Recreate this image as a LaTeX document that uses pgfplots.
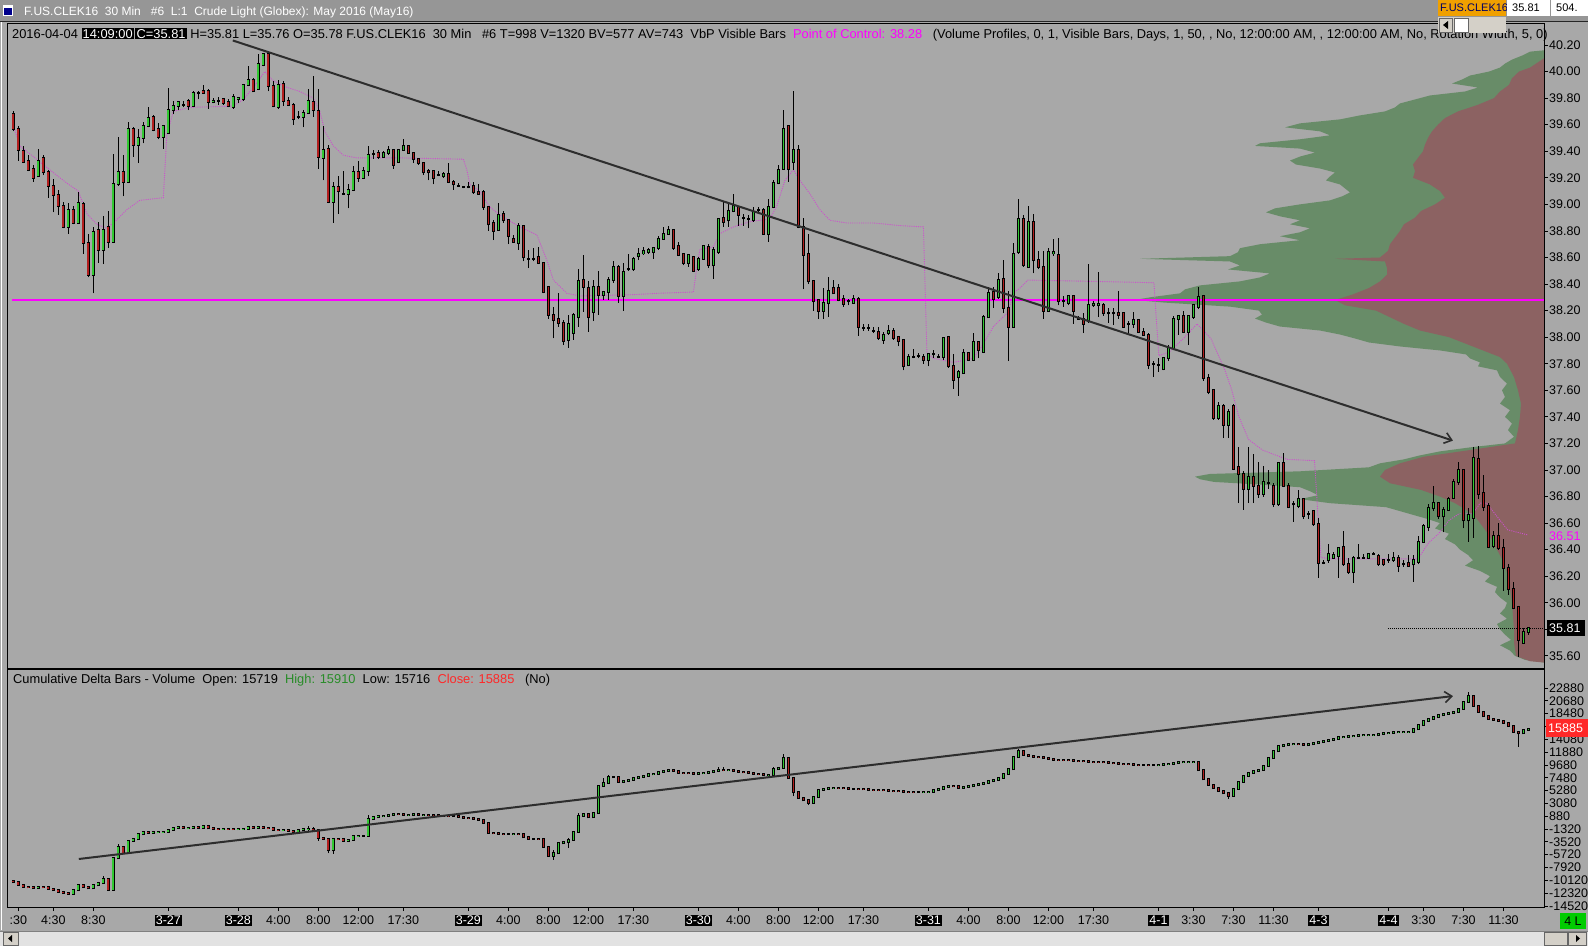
\documentclass[border=0pt]{standalone}
\usepackage{pgfplots}
\pgfplotsset{compat=1.18}
\usepackage{pgfplotstable}
\usetikzlibrary{arrows.meta}
\usepackage{fontspec}
\setmainfont{Liberation Sans}
\definecolor{bg}{RGB}{168,168,168}
\definecolor{titlebg}{RGB}{150,150,150}
\definecolor{cgreen}{RGB}{50,200,50}
\definecolor{cred}{RGB}{178,30,30}
\definecolor{pgreen}{RGB}{104,140,104}
\definecolor{pred}{RGB}{140,98,98}
\definecolor{poc}{RGB}{255,0,255}
\definecolor{dpoc}{RGB}{205,80,205}
\definecolor{trend}{RGB}{45,45,45}
\definecolor{hgreen}{RGB}{40,140,40}
\definecolor{tred}{RGB}{255,40,40}
\definecolor{orangebox}{RGB}{240,160,0}
\definecolor{scroll}{RGB}{226,226,226}
\definecolor{btn}{RGB}{212,208,200}
\newcommand{\lbl}{\fontsize{12.5}{14}\selectfont}
\newcommand{\infofont}{\fontsize{12.85}{14}\selectfont}
\setlength{\fboxsep}{1.2pt}
\newcommand{\dt}[1]{\colorbox{black}{\textcolor{white}{#1}}}

\pgfplotstableread{
i o h l c
0 39.68 39.70 39.55 39.57
1 39.57 39.59 39.33 39.41
2 39.40 39.44 39.31 39.32
3 39.33 39.37 39.25 39.26
4 39.27 39.30 39.17 39.20
5 39.21 39.42 39.21 39.33
6 39.35 39.37 39.22 39.24
7 39.24 39.26 39.05 39.14
8 39.14 39.19 38.94 39.07
9 39.07 39.11 38.92 38.99
10 38.99 39.02 38.82 38.83
11 38.83 39.01 38.78 38.96
12 38.96 38.99 38.85 38.86
13 38.86 39.09 38.86 39.01
14 39.00 39.02 38.63 38.71
15 38.71 38.78 38.45 38.47
16 38.47 38.83 38.33 38.79
17 38.81 38.87 38.56 38.66
18 38.66 38.91 38.55 38.81
19 38.83 38.95 38.67 38.72
20 38.72 39.38 38.71 39.15
21 39.15 39.51 39.14 39.24
22 39.24 39.37 39.06 39.17
23 39.17 39.62 39.16 39.57
24 39.57 39.58 39.36 39.45
25 39.45 39.57 39.31 39.50
26 39.50 39.62 39.46 39.59
27 39.59 39.73 39.58 39.65
28 39.66 39.67 39.55 39.56
29 39.57 39.61 39.49 39.51
30 39.51 39.60 39.42 39.59
31 39.54 39.88 39.54 39.71
32 39.71 39.78 39.68 39.74
33 39.74 39.78 39.71 39.77
34 39.75 39.78 39.73 39.75
35 39.78 39.79 39.71 39.74
36 39.74 39.85 39.74 39.84
37 39.84 39.85 39.79 39.84
38 39.85 39.90 39.83 39.84
39 39.85 39.87 39.72 39.77
40 39.77 39.80 39.76 39.78
41 39.78 39.81 39.75 39.78
42 39.79 39.80 39.75 39.76
43 39.77 39.79 39.73 39.74
44 39.73 39.83 39.72 39.81
45 39.79 39.81 39.76 39.80
46 39.79 39.91 39.78 39.90
47 39.90 40.04 39.89 39.94
48 39.94 39.95 39.85 39.85
49 39.87 40.13 39.86 40.06
50 40.05 40.14 40.04 40.13
51 40.13 40.14 39.85 39.89
52 39.89 39.93 39.73 39.74
53 39.73 39.94 39.72 39.90
54 39.91 39.93 39.74 39.78
55 39.78 39.81 39.74 39.75
56 39.75 39.76 39.60 39.64
57 39.66 39.70 39.64 39.66
58 39.66 39.71 39.58 39.69
59 39.69 39.87 39.69 39.78
60 39.77 39.97 39.66 39.71
61 39.70 39.87 39.27 39.36
62 39.35 39.59 39.18 39.41
63 39.42 39.45 39.01 39.02
64 39.02 39.17 38.86 39.13
65 39.13 39.21 38.93 39.10
66 39.08 39.25 39.07 39.08
67 39.08 39.15 38.97 39.11
68 39.11 39.29 39.10 39.24
69 39.24 39.33 39.17 39.20
70 39.20 39.28 39.19 39.25
71 39.25 39.44 39.21 39.37
72 39.38 39.41 39.34 39.38
73 39.39 39.41 39.34 39.36
74 39.36 39.40 39.35 39.39
75 39.39 39.44 39.37 39.41
76 39.41 39.42 39.27 39.30
77 39.32 39.42 39.31 39.41
78 39.41 39.49 39.40 39.44
79 39.44 39.45 39.38 39.39
80 39.39 39.39 39.31 39.34
81 39.34 39.35 39.30 39.31
82 39.31 39.31 39.22 39.24
83 39.25 39.27 39.18 39.24
84 39.25 39.26 39.15 39.20
85 39.22 39.25 39.21 39.22
86 39.21 39.24 39.20 39.23
87 39.23 39.31 39.16 39.17
88 39.17 39.18 39.11 39.15
89 39.14 39.16 39.13 39.14
90 39.13 39.14 39.12 39.13
91 39.13 39.17 39.12 39.13
92 39.14 39.17 39.08 39.09
93 39.09 39.15 39.08 39.08
94 39.09 39.11 38.96 38.98
95 38.98 38.99 38.80 38.85
96 38.86 38.88 38.73 38.80
97 38.81 39.01 38.80 38.92
98 38.93 38.95 38.86 38.88
99 38.88 38.89 38.70 38.76
100 38.74 38.77 38.71 38.72
101 38.71 38.86 38.66 38.84
102 38.84 38.84 38.57 38.60
103 38.59 38.66 38.52 38.59
104 38.59 38.67 38.57 38.59
105 38.60 38.68 38.55 38.56
106 38.56 38.56 38.33 38.34
107 38.38 38.38 38.14 38.17
108 38.17 38.23 37.99 38.13
109 38.14 38.33 38.08 38.11
110 38.11 38.13 37.94 37.97
111 37.98 38.17 37.92 38.10
112 38.03 38.18 37.98 38.17
113 38.15 38.51 38.08 38.42
114 38.43 38.62 38.19 38.38
115 38.37 38.42 38.04 38.15
116 38.19 38.43 38.12 38.38
117 38.38 38.50 38.17 38.32
118 38.32 38.34 38.28 38.34
119 38.34 38.45 38.28 38.43
120 38.43 38.57 38.41 38.53
121 38.53 38.54 38.26 38.31
122 38.31 38.56 38.20 38.49
123 38.51 38.63 38.50 38.51
124 38.51 38.60 38.50 38.59
125 38.61 38.67 38.58 38.63
126 38.63 38.68 38.62 38.65
127 38.64 38.67 38.63 38.66
128 38.64 38.68 38.59 38.67
129 38.67 38.76 38.66 38.74
130 38.74 38.83 38.74 38.78
131 38.78 38.84 38.77 38.81
132 38.81 38.81 38.66 38.67
133 38.69 38.72 38.61 38.62
134 38.63 38.63 38.54 38.56
135 38.56 38.63 38.53 38.62
136 38.60 38.61 38.49 38.50
137 38.51 38.60 38.50 38.59
138 38.59 38.69 38.59 38.69
139 38.68 38.70 38.52 38.54
140 38.54 38.68 38.44 38.66
141 38.64 38.90 38.63 38.89
142 38.90 39.02 38.83 38.87
143 38.88 39.01 38.83 38.95
144 38.95 39.08 38.94 38.99
145 38.98 38.99 38.84 38.92
146 38.90 38.93 38.84 38.90
147 38.89 38.92 38.82 38.89
148 38.88 38.98 38.87 38.94
149 38.96 38.98 38.94 38.96
150 38.96 38.97 38.77 38.78
151 38.78 39.04 38.72 38.98
152 38.98 39.18 38.97 39.16
153 39.16 39.30 39.15 39.26
154 39.27 39.71 39.26 39.57
155 39.59 39.60 39.17 39.27
156 39.32 39.85 39.26 39.41
157 39.41 39.45 38.82 38.83
158 38.83 38.90 38.36 38.62
159 38.63 38.78 38.40 38.42
160 38.42 38.43 38.20 38.27
161 38.28 38.28 38.14 38.20
162 38.20 38.37 38.14 38.26
163 38.26 38.45 38.15 38.35
164 38.37 38.43 38.33 38.33
165 38.37 38.40 38.27 38.28
166 38.29 38.32 38.23 38.25
167 38.27 38.29 38.24 38.27
168 38.26 38.32 38.25 38.29
169 38.29 38.30 38.01 38.08
170 38.07 38.10 38.05 38.07
171 38.07 38.10 38.05 38.07
172 38.05 38.08 38.03 38.05
173 38.04 38.08 37.98 37.99
174 37.98 38.04 37.95 38.02
175 38.03 38.09 38.02 38.05
176 38.05 38.07 37.98 37.99
177 38.00 38.01 37.93 37.97
178 37.98 37.98 37.75 37.78
179 37.79 37.87 37.78 37.85
180 37.85 37.91 37.84 37.85
181 37.86 37.88 37.84 37.86
182 37.85 37.87 37.80 37.83
183 37.83 37.88 37.78 37.87
184 37.87 37.90 37.84 37.87
185 37.85 37.87 37.84 37.85
186 37.85 38.00 37.83 37.99
187 38.00 38.01 37.77 37.78
188 37.78 37.87 37.61 37.68
189 37.70 37.75 37.56 37.74
190 37.73 37.91 37.73 37.88
191 37.88 37.89 37.83 37.83
192 37.83 38.03 37.82 37.96
193 37.96 37.96 37.84 37.90
194 37.89 38.17 37.88 38.15
195 38.15 38.38 38.15 38.33
196 38.34 38.38 38.22 38.29
197 38.30 38.48 38.29 38.43
198 38.44 38.58 38.18 38.22
199 38.22 38.35 37.82 38.08
200 38.08 38.71 38.07 38.63
201 38.64 39.04 38.63 38.89
202 38.89 38.92 38.53 38.54
203 38.53 38.99 38.52 38.87
204 38.87 38.93 38.48 38.58
205 38.58 38.65 38.51 38.53
206 38.53 38.65 38.14 38.20
207 38.20 38.67 38.19 38.64
208 38.63 38.74 38.61 38.64
209 38.62 38.75 38.24 38.27
210 38.27 38.31 38.23 38.27
211 38.26 38.32 38.24 38.31
212 38.31 38.32 38.10 38.20
213 38.14 38.16 38.13 38.14
214 38.14 38.18 38.03 38.10
215 38.12 38.55 38.11 38.24
216 38.24 38.27 38.23 38.25
217 38.24 38.49 38.15 38.25
218 38.24 38.26 38.16 38.18
219 38.18 38.22 38.11 38.18
220 38.18 38.22 38.09 38.18
221 38.18 38.35 38.14 38.17
222 38.18 38.19 38.07 38.08
223 38.10 38.12 38.02 38.10
224 38.10 38.19 38.07 38.13
225 38.13 38.14 38.03 38.04
226 38.04 38.07 38.02 38.02
227 38.02 38.03 37.76 37.79
228 37.80 37.82 37.70 37.80
229 37.79 37.84 37.74 37.79
230 37.76 37.85 37.75 37.84
231 37.84 37.94 37.82 37.92
232 37.92 38.16 37.90 38.14
233 38.14 38.17 38.02 38.16
234 38.16 38.20 38.03 38.04
235 38.04 38.17 37.94 38.16
236 38.15 38.25 38.14 38.24
237 38.23 38.38 38.21 38.30
238 38.31 38.32 37.67 37.69
239 37.69 37.72 37.57 37.59
240 37.60 37.61 37.38 37.39
241 37.39 37.51 37.38 37.48
242 37.48 37.50 37.24 37.34
243 37.34 37.46 37.24 37.44
244 37.48 37.50 37.00 37.01
245 37.02 37.17 36.75 36.97
246 36.97 36.99 36.70 36.86
247 36.86 37.17 36.75 36.95
248 36.95 37.12 36.75 36.88
249 36.88 37.06 36.79 36.82
250 36.82 37.03 36.80 36.91
251 36.90 37.00 36.86 36.90
252 36.88 36.90 36.72 36.74
253 36.74 37.06 36.73 37.05
254 37.05 37.13 36.87 36.88
255 36.88 36.90 36.71 36.72
256 36.74 36.77 36.61 36.74
257 36.73 36.85 36.71 36.78
258 36.78 36.79 36.63 36.65
259 36.67 36.69 36.63 36.67
260 36.69 36.70 36.58 36.59
261 36.59 36.64 36.19 36.30
262 36.30 36.32 36.29 36.30
263 36.32 36.44 36.30 36.37
264 36.34 36.38 36.34 36.36
265 36.35 36.42 36.19 36.41
266 36.42 36.54 36.28 36.29
267 36.29 36.34 36.22 36.23
268 36.23 36.35 36.15 36.34
269 36.34 36.44 36.33 36.34
270 36.34 36.37 36.33 36.34
271 36.34 36.37 36.33 36.37
272 36.37 36.38 36.36 36.37
273 36.35 36.37 36.28 36.29
274 36.32 36.33 36.28 36.29
275 36.32 36.37 36.30 36.32
276 36.32 36.38 36.31 36.34
277 36.34 36.36 36.23 36.28
278 36.29 36.32 36.27 36.29
279 36.30 36.36 36.27 36.28
280 36.29 36.36 36.16 36.32
281 36.31 36.50 36.29 36.46
282 36.46 36.59 36.45 36.58
283 36.57 36.74 36.54 36.71
284 36.71 36.88 36.69 36.75
285 36.75 36.76 36.63 36.65
286 36.65 36.72 36.53 36.70
287 36.70 36.80 36.69 36.78
288 36.79 36.93 36.78 36.91
289 36.91 37.06 36.89 37.00
290 37.00 37.01 36.56 36.62
291 36.62 36.71 36.46 36.66
292 36.64 37.17 36.49 37.09
293 37.08 37.18 36.78 36.82
294 36.83 36.96 36.69 36.72
295 36.73 36.75 36.41 36.42
296 36.43 36.54 36.41 36.50
297 36.50 36.60 36.40 36.41
298 36.41 36.48 36.09 36.26
299 36.26 36.29 36.06 36.10
300 36.10 36.16 35.95 35.96
301 35.97 35.97 35.59 35.72
302 35.70 35.81 35.69 35.78
303 35.78 35.81 35.76 35.81
}\price

\pgfplotstableread{
i o h l c
0 -10250 -10250 -10450 -10450
1 -10450 -10450 -10900 -10900
2 -10900 -10900 -11200 -11200
3 -11200 -11200 -11350 -11350
4 -11350 -11350 -11450 -11450
5 -11450 -11200 -11450 -11200
6 -11200 -11200 -11350 -11350
7 -11350 -11350 -11550 -11550
8 -11550 -11550 -11800 -11800
9 -11800 -11800 -12050 -12050
10 -12050 -12050 -12300 -12300
11 -12300 -12300 -12450 -12450
12 -12450 -11700 -12450 -11700
13 -11700 -11000 -11700 -11000
14 -11000 -11000 -11300 -11300
15 -11300 -11300 -11500 -11500
16 -11500 -11000 -11500 -11000
17 -11000 -10600 -11000 -10600
18 -10600 -9400 -10600 -9900
19 -9900 -9900 -11700 -11700
20 -11700 -6350 -11700 -6350
21 -6350 -3900 -6350 -4400
22 -4400 -4400 -5500 -5500
23 -5500 -3300 -5500 -3300
24 -3300 -3100 -3300 -3100
25 -3100 -2200 -3100 -2200
26 -2200 -1800 -2200 -1800
27 -1800 -1800 -1950 -1950
28 -1950 -1900 -1950 -1900
29 -1900 -1850 -1900 -1850
30 -1850 -1800 -1850 -1800
31 -1800 -1400 -1800 -1400
32 -1400 -1100 -1400 -1100
33 -1100 -1050 -1100 -1050
34 -1050 -1050 -1150 -1150
35 -1150 -1100 -1150 -1100
36 -1100 -1000 -1100 -1000
37 -1000 -1000 -1100 -1100
38 -1100 -800 -1100 -800
39 -800 -800 -1200 -1200
40 -1200 -1200 -1250 -1250
41 -1250 -1250 -1300 -1300
42 -1300 -1250 -1300 -1250
43 -1250 -1250 -1300 -1300
44 -1300 -1300 -1350 -1350
45 -1350 -1300 -1350 -1300
46 -1300 -1250 -1300 -1250
47 -1250 -1050 -1250 -1050
48 -1050 -1050 -1100 -1100
49 -1100 -1000 -1100 -1000
50 -1000 -1000 -1100 -1100
51 -1100 -1100 -1200 -1200
52 -1200 -1200 -1400 -1400
53 -1400 -1400 -1500 -1500
54 -1500 -1450 -1500 -1450
55 -1450 -1450 -1600 -1600
56 -1600 -1600 -1900 -1900
57 -1900 -1500 -1900 -1500
58 -1500 -1300 -1500 -1300
59 -1300 -800 -1600 -1250
60 -1250 -1000 -1800 -1450
61 -1450 -1450 -3300 -2900
62 -2900 -2900 -3000 -3000
63 -3000 -3000 -5500 -5000
64 -5000 -3050 -5600 -3050
65 -3050 -3050 -3100 -3100
66 -3100 -3100 -3300 -3300
67 -3300 -3200 -3300 -3200
68 -3200 -2500 -3200 -2500
69 -2500 -2450 -2500 -2450
70 -2450 -2450 -2450 -2450
71 -2450 1100 -2450 400
72 400 700 400 700
73 700 900 700 900
74 900 1000 900 1000
75 1000 1100 1000 1100
76 1100 1250 1100 1250
77 1250 1250 1200 1200
78 1200 1200 1100 1100
79 1100 1150 1100 1150
80 1150 1200 1150 1200
81 1200 1200 1100 1100
82 1100 1150 1100 1150
83 1150 1150 1100 1100
84 1100 1100 1050 1050
85 1050 1050 1000 1000
86 1000 1000 950 950
87 950 950 900 900
88 900 900 900 900
89 900 900 750 750
90 750 750 650 650
91 650 650 550 550
92 550 550 450 450
93 450 450 300 300
94 300 300 -250 -250
95 -250 -250 -1950 -1950
96 -1950 -1950 -2050 -2050
97 -2050 -2050 -2100 -2100
98 -2100 -2100 -2150 -2150
99 -2150 -2150 -2150 -2150
100 -2150 -2100 -2150 -2100
101 -2100 -2100 -2150 -2150
102 -2150 -2150 -2750 -2750
103 -2750 -2750 -2950 -2950
104 -2950 -2950 -2950 -2950
105 -2950 -2950 -3000 -3000
106 -3000 -3000 -4350 -4350
107 -4350 -4350 -6100 -5900
108 -5900 -4900 -6600 -5500
109 -5500 -3800 -5500 -3800
110 -3800 -3500 -3800 -3500
111 -3500 -2900 -4600 -3200
112 -3200 -1750 -3200 -1750
113 -1750 1400 -1750 950
114 950 1250 950 1250
115 1250 1250 700 700
116 700 1400 700 1400
117 1400 6050 1400 6050
118 6050 7400 6050 6600
119 6600 7950 6600 7550
120 7550 7550 7550 7550
121 7550 7550 6800 6800
122 6800 6950 6800 6950
123 6950 7100 6950 7100
124 7100 7400 7100 7400
125 7400 7650 7400 7650
126 7650 7800 7650 7800
127 7800 8050 7800 8050
128 8050 8200 8050 8200
129 8200 8500 8200 8500
130 8500 8600 8500 8600
131 8600 8800 8600 8800
132 8800 8800 8650 8650
133 8650 8650 8350 8350
134 8350 8350 8300 8300
135 8300 8300 8250 8250
136 8250 8250 8150 8150
137 8150 8250 8150 8250
138 8250 8300 8250 8300
139 8300 8500 8300 8500
140 8500 8700 8500 8700
141 8700 9300 8700 8800
142 8800 9300 8750 8750
143 8750 8800 8750 8800
144 8800 8800 8700 8700
145 8700 8700 8500 8500
146 8500 8500 8400 8400
147 8400 8400 8300 8300
148 8300 8300 8200 8200
149 8200 8200 8150 8150
150 8150 8150 7950 7950
151 7950 8000 7950 8000
152 8000 9300 8000 8900
153 8900 9150 8900 9150
154 9150 11550 9150 10800
155 10800 10800 7400 7400
156 7400 7400 4300 5000
157 5000 5000 4000 4000
158 4000 4000 3600 3600
159 3600 3600 2800 3200
160 3200 4200 3200 4200
161 4200 5400 4200 5400
162 5400 5600 5400 5600
163 5600 5700 5600 5700
164 5700 5750 5700 5750
165 5750 5750 5700 5700
166 5700 5700 5650 5650
167 5650 5650 5600 5600
168 5600 5600 5600 5600
169 5600 5600 5550 5550
170 5550 5550 5500 5500
171 5500 5500 5450 5450
172 5450 5450 5400 5400
173 5400 5400 5350 5350
174 5350 5350 5300 5300
175 5300 5300 5250 5250
176 5250 5250 5200 5200
177 5200 5200 5150 5150
178 5150 5150 5100 5100
179 5100 5100 5050 5050
180 5050 5050 5000 5000
181 5000 5000 5000 5000
182 5000 5050 5000 5050
183 5050 5100 5050 5100
184 5100 5300 5100 5300
185 5300 5600 5300 5600
186 5600 5900 5600 5900
187 5900 6100 5900 6100
188 6100 6100 6000 6000
189 6000 6000 5800 5800
190 5800 5900 5800 5900
191 5900 6000 5900 6000
192 6000 6200 6000 6200
193 6200 6400 6200 6400
194 6400 6600 6400 6600
195 6600 6900 6600 6900
196 6900 7100 6900 7100
197 7100 7500 7100 7500
198 7500 8200 7500 8200
199 8200 8900 8200 8900
200 8900 11000 8900 11000
201 11000 12400 11000 12000
202 12000 12000 11400 11400
203 11400 11400 11200 11200
204 11200 11200 11100 11100
205 11100 11100 11000 11000
206 11000 11000 10800 10800
207 10800 10800 10700 10700
208 10700 10700 10600 10600
209 10600 10600 10550 10550
210 10550 10550 10500 10500
211 10500 10500 10450 10450
212 10450 10450 10400 10400
213 10400 10400 10350 10350
214 10350 10350 10300 10300
215 10300 10300 10250 10250
216 10250 10250 10200 10200
217 10200 10200 10150 10150
218 10150 10150 10100 10100
219 10100 10100 10050 10050
220 10050 10050 9950 9950
221 9950 9950 9900 9900
222 9900 9900 9850 9850
223 9850 9850 9800 9800
224 9800 9800 9750 9750
225 9750 9750 9700 9700
226 9700 9700 9700 9700
227 9700 9700 9650 9650
228 9650 9650 9650 9650
229 9650 9700 9650 9700
230 9700 9800 9700 9800
231 9800 9900 9800 9900
232 9900 10000 9900 10000
233 10000 10100 10000 10100
234 10100 10150 10100 10150
235 10150 10200 10150 10200
236 10200 10250 10200 10250
237 10250 10250 8800 8800
238 8800 8800 7200 7200
239 7200 7200 6300 6300
240 6300 6300 5700 5700
241 5700 5700 5200 5200
242 5200 5200 4800 4800
243 4800 4800 3900 4400
244 4400 5600 4400 5600
245 5600 6800 5600 6800
246 6800 7800 6800 7800
247 7800 8300 7800 8300
248 8300 8600 8300 8600
249 8600 8800 8600 8800
250 8800 9500 8800 9500
251 9500 10800 9500 10800
252 10800 12000 10800 12000
253 12000 12900 12000 12900
254 12900 13100 12900 13100
255 13100 13200 13100 13200
256 13200 13300 13200 13300
257 13300 13300 13200 13200
258 13200 13200 13100 13100
259 13100 13200 13100 13200
260 13200 13400 13200 13400
261 13400 13600 13400 13600
262 13600 13800 13600 13800
263 13800 14000 13800 14000
264 14000 14200 14000 14200
265 14200 14400 14200 14400
266 14400 14500 14400 14500
267 14500 14600 14500 14600
268 14600 14700 14600 14700
269 14700 14750 14700 14750
270 14750 14800 14750 14800
271 14800 14850 14800 14850
272 14850 14900 14850 14900
273 14900 15000 14900 15000
274 15000 15100 15000 15100
275 15100 15200 15100 15200
276 15200 15250 15200 15250
277 15250 15300 15250 15300
278 15300 15350 15300 15350
279 15350 15400 15350 15400
280 15400 15800 15400 15800
281 15800 16500 15800 16500
282 16500 17300 16500 17300
283 17300 17600 17300 17600
284 17600 17900 17600 17900
285 17900 18200 17900 18200
286 18200 18400 18200 18400
287 18400 18600 18400 18600
288 18600 18800 18600 18800
289 18800 19300 18800 19300
290 19300 20500 19300 20500
291 20500 22200 20500 21500
292 21500 21500 19800 19800
293 19800 19800 18800 18800
294 18800 18800 18000 18000
295 18000 18000 17600 17600
296 17600 17600 17400 17400
297 17400 17400 17300 17300
298 17300 17300 16900 16900
299 16900 16900 16400 16400
300 16400 16400 15400 15400
301 15400 15500 12800 15100
302 15100 15800 15000 15719
303 15719 15910 15716 15885
}\delta

\pgfplotstableread{
w p
0 40.16
14 40.15
22 40.12
32 40.09
39 40.06
44 40.03
55 40.00
74 39.97
82 39.94
92 39.91
66 39.88
79 39.85
114 39.82
129 39.79
144 39.76
149 39.73
159 39.70
184 39.67
204 39.64
244 39.61
259 39.58
224 39.55
214 39.52
244 39.49
284 39.46
289 39.44
244 39.42
229 39.39
244 39.36
254 39.33
248 39.30
224 39.27
209 39.24
214 39.21
218 39.18
204 39.15
199 39.12
194 39.09
202 39.06
214 39.03
244 39.00
269 38.97
278 38.94
264 38.91
244 38.88
254 38.85
234 38.82
244 38.79
264 38.76
244 38.73
284 38.70
304 38.67
306 38.64
314 38.61
404 38.59
314 38.57
304 38.54
316 38.51
274 38.48
284 38.45
304 38.42
344 38.39
359 38.36
364 38.33
394 38.30
409 38.28
379 38.26
314 38.23
285 38.20
282 38.17
289 38.14
278 38.11
264 38.08
224 38.05
204 38.02
189 37.99
175 37.96
144 37.93
104 37.90
78 37.87
74 37.84
64 37.81
66 37.78
47 37.75
44 37.70
37 37.65
42 37.60
39 37.55
44 37.50
34 37.45
39 37.40
32 37.35
36 37.30
30 37.25
39 37.20
74 37.17
104 37.14
124 37.11
140 37.08
164 37.05
175 37.02
244 36.99
334 36.97
349 36.95
344 36.93
330 36.91
284 36.89
244 36.87
234 36.84
226 36.81
244 36.78
214 36.75
158 36.72
144 36.69
130 36.66
116 36.63
104 36.60
109 36.56
95 36.52
99 36.48
89 36.44
84 36.40
76 36.36
71 36.32
79 36.28
64 36.24
54 36.20
59 36.16
47 36.12
49 36.08
44 36.04
37 36.00
39 35.96
44 35.92
37 35.88
47 35.84
44 35.80
39 35.76
33 35.72
44 35.68
34 35.64
29 35.60
19 35.57
0 35.55
}\gprof

\pgfplotstableread{
w p
0 40.10
8 40.06
14 40.03
25 40.00
32 39.95
35 39.90
44 39.85
50 39.80
66 39.75
86 39.70
99 39.65
106 39.60
112 39.55
116 39.50
119 39.45
121 39.40
126 39.35
131 39.30
129 39.25
131 39.20
114 39.15
104 39.10
99 39.05
109 39.00
123 38.95
129 38.90
140 38.85
144 38.80
149 38.75
154 38.70
156 38.65
164 38.60
209 38.59
159 38.57
157 38.52
157 38.47
164 38.42
175 38.37
192 38.32
209 38.28
199 38.24
168 38.20
154 38.15
140 38.10
124 38.05
95 38.00
78 37.95
61 37.90
44 37.85
37 37.80
30 37.70
26 37.60
23 37.50
24 37.40
26 37.30
29 37.20
74 37.15
120 37.10
144 37.05
159 37.00
164 36.95
154 36.90
123 36.85
104 36.80
89 36.75
78 36.70
69 36.65
64 36.60
54 36.50
47 36.40
40 36.30
36 36.20
34 36.10
32 36.00
31 35.90
30 35.80
30 35.70
28 35.60
14 35.56
0 35.55
}\rprof

\pgfplotstableread{
i p
0.3 39.56
1.3 39.44
4 39.36
7.3 39.26
10.7 39.16
13 39.10
14.7 38.93
16.7 38.85
18.7 38.82
20.3 38.87
22.7 38.96
25.3 39.03
30 39.05
30.7 39.52
32 39.70
35.3 39.73
44 39.74
46 39.79
48 39.88
50.3 40.00
51.7 39.94
54 39.89
57.3 39.85
60 39.80
61.3 39.70
62.3 39.55
64 39.44
66 39.37
68.7 39.35
77.3 39.35
90 39.34
90.7 39.26
91.3 39.15
93.3 39.10
95.3 38.98
97.3 38.92
101.3 38.83
104.7 38.77
106.7 38.58
108 38.43
110.7 38.33
113.3 38.31
124 38.32
128.7 38.33
136 38.34
136.7 38.53
137.3 38.66
140 38.68
141.3 38.78
144 38.83
147.3 38.87
149.3 38.88
151.3 38.89
152.7 38.99
154.3 39.18
156 39.26
157.3 39.18
159.3 39.08
161.3 38.96
163.3 38.88
166.7 38.86
172 38.86
177.3 38.84
182 38.83
182.3 38.43
182.7 37.88
184 37.84
188 37.81
192 37.84
194 37.95
196 38.08
198.7 38.18
200.3 38.34
201.3 38.37
202.9 38.43
216 38.42
228.1 38.41
228.6 38.12
229.1 37.86
231.2 37.89
234 37.99
236.7 38.10
239.5 37.99
242.2 37.76
243.6 37.61
245 37.41
247 37.23
249.8 37.15
254.7 37.08
260.2 37.07
260.5 36.90
260.9 36.65
261.5 36.34
264.3 36.33
280.9 36.33
283 36.45
285 36.52
287.1 36.62
289.1 36.67
291.9 36.67
293.3 36.75
294.6 36.75
296.7 36.65
298.8 36.55
302.9 36.51
}\dpocline

% candles: #1 table, #2 one pixel in y units
\newcommand{\candles}[2]{%
\addplot[draw=none, mark=none, forget plot, error bars/.cd, y dir=plus, y explicit, error mark=none, error bar style={draw=black, line width=1pt}] table[x=i, y=l, y error plus expr={\thisrow{h}-\thisrow{l}}] {#1};
\addplot[draw=none, mark=none, forget plot, error bars/.cd, y dir=plus, y explicit, error mark=none, error bar style={draw=black, line width=3.6pt}] table[x=i, y expr={min(\thisrow{o},\thisrow{c})-#2}, y error plus expr={abs(\thisrow{c}-\thisrow{o})+2*#2}] {#1};
\addplot[draw=none, mark=none, forget plot, restrict expr to domain={\thisrow{c}-\thisrow{o}}{0:1000000}, error bars/.cd, y dir=plus, y explicit, error mark=none, error bar style={draw=cgreen, line width=1.7pt}] table[x=i, y expr={min(\thisrow{o},\thisrow{c})}, y error plus expr={abs(\thisrow{c}-\thisrow{o})}] {#1};
\addplot[draw=none, mark=none, forget plot, restrict expr to domain={\thisrow{c}-\thisrow{o}}{-1000000:0}, error bars/.cd, y dir=plus, y explicit, error mark=none, error bar style={draw=cred, line width=1.7pt}] table[x=i, y expr={min(\thisrow{o},\thisrow{c})}, y error plus expr={abs(\thisrow{c}-\thisrow{o})}] {#1};
}

\begin{document}
\begin{tikzpicture}[x=1pt,y=1pt]
\path[use as bounding box] (0pt,0pt) rectangle (1588pt,-946pt);
\fill[bg] (0pt,0pt) rectangle (1588pt,-946pt);
% title bar
\fill[titlebg] (0pt,0pt) rectangle (1588pt,-21pt);
\draw[black!85, line width=1pt] (0pt,-21.5pt) -- (1588pt,-21.5pt);
\fill[white] (3pt,-5pt) rectangle (13pt,-16pt);
\fill[blue!55!black] (4pt,-8pt) rectangle (12pt,-15pt);
\node[anchor=base west, inner sep=0pt, text=white] at (24pt,-15.5pt) {\fontsize{12}{13}\selectfont F.US.CLEK16\ \ 30 Min\ \ \ \#6\ \ L:1\ \ Crude Light (Globex): May 2016 (May16)};
\draw[white, line width=1.5pt] (1.5pt,-22pt) -- (1.5pt,-930pt);

% volume profile
\begin{axis}[at={(7.5pt,-668pt)}, anchor=south west, scale only axis, width=1536.5pt, height=645pt,
  xmin=0, xmax=1536.5, x dir=reverse, ymin=35.5087, ymax=40.3657, hide axis, clip=true]
\addplot[fill=pgreen, draw=none] table[x=w, y=p] {\gprof};
\addplot[fill=pred, draw=none] table[x=w, y=p] {\rprof};
\end{axis}

% price panel
\begin{axis}[at={(7.5pt,-668pt)}, anchor=south west, scale only axis, width=1536.5pt, height=645pt,
  xmin=-1.16, xmax=306.1, ymin=35.5087, ymax=40.3657,
  axis line style={line width=1pt, black},
  xtick=\empty,
  ytick={35.6,35.8,36.0,36.2,36.4,36.6,36.8,37.0,37.2,37.4,37.6,37.8,38.0,38.2,38.4,38.6,38.8,39.0,39.2,39.4,39.6,39.8,40.0,40.2},
  yticklabels={35.60,35.80,36.00,36.20,36.40,36.60,36.80,37.00,37.20,37.40,37.60,37.80,38.00,38.20,38.40,38.60,38.80,39.00,39.20,39.40,39.60,39.80,40.00,40.20},
  ytick pos=right, yticklabel pos=right, tick align=outside, major tick length=4pt,
  tick style={black, line width=0.8pt},
  yticklabel style={font=\lbl, anchor=west, inner sep=1pt},
  clip=true]
\addplot[poc, line width=2pt, forget plot] coordinates {(-0.3,38.28) (306.1,38.28)};
\addplot[dpoc, line width=0.9pt, dash pattern=on 1pt off 1.2pt, forget plot] table[x=i, y=p] {\dpocline};
\addplot[black, line width=0.7pt, dash pattern=on 1pt off 1pt, forget plot] coordinates {(275,35.81) (306.1,35.81)};
\candles{\price}{0.0075}
\addplot[trend, line width=2pt, -{Straight Barb[length=7pt, width=11pt, line width=1.6pt]}, forget plot] coordinates {(43.9,40.234) (287.9,37.221)};
\end{axis}

% cumulative delta panel
\begin{axis}[at={(7.5pt,-907pt)}, anchor=south west, scale only axis, width=1536.5pt, height=238pt,
  xmin=-1.16, xmax=306.1, ymin=-14700, ymax=26140,
  axis line style={line width=1pt, black},
  xtick={1,8,16,31,45,53,61,69,78,91,99,107,115,124,137,145,153,161,170,183,191,199,207,216,229,236,244,252,261,275,282,290,298},
  xticklabels={:30,4:30,8:30,\dt{3-27},\dt{3-28},4:00,8:00,12:00,17:30,\dt{3-29},4:00,8:00,12:00,17:30,\dt{3-30},4:00,8:00,12:00,17:30,\dt{3-31},4:00,8:00,12:00,17:30,\dt{4-1},3:30,7:30,11:30,\dt{4-3},\dt{4-4},3:30,7:30,11:30},
  xtick pos=bottom, xticklabel pos=bottom,
  ytick={-14520,-12320,-10120,-7920,-5720,-3520,-1320,880,3080,5280,7480,9680,11880,14080,16280,18480,20680,22880},
  yticklabels={-14520,-12320,-10120,-7920,-5720,-3520,-1320,880,3080,5280,7480,9680,11880,14080,16280,18480,20680,22880},
  ytick pos=right, yticklabel pos=right, tick align=outside, major tick length=4pt,
  tick style={black, line width=0.8pt},
  yticklabel style={font=\lbl, anchor=west, inner sep=1pt},
  xticklabel style={font=\lbl, inner sep=0pt, anchor=base, yshift=-13.5pt},
  scaled y ticks=false,
  clip=true]
\candles{\delta}{171.6}
\addplot[trend, line width=2pt, -{Straight Barb[length=7pt, width=11pt, line width=1.6pt]}, forget plot] coordinates {(13.1,-6460) (287.9,21500)};
\end{axis}

% info line
\node[anchor=base west, inner sep=0pt] at (12pt,-38pt) {\infofont 2016-04-04 \dt{14:09:00}\hspace{1.5pt}\dt{C=35.81} H=35.81 L=35.76 O=35.78 F.US.CLEK16\ \ 30 Min\ \ \ \#6 T=998 V=1320 BV=577 AV=743\ \ VbP Visible Bars\ \ \textcolor{poc}{Point of Control: 38.28}\ \ \ (Volume Profiles, 0, 1, Visible Bars, Days, 1, 50, , No, 12:00:00 AM, , 12:00:00 AM, No, Rotation Width, 5, 0)};
% lower title
\node[anchor=base west, inner sep=0pt] at (13pt,-683.5pt) {\infofont Cumulative Delta Bars - Volume\ \ Open: 15719\ \ \textcolor{hgreen}{High: 15910}\ \ Low: 15716\ \ \textcolor{tred}{Close: 15885}\ \ \ (No)};

% axis value boxes
\node[anchor=west, text=poc, inner sep=0pt] at (1549pt,-536pt) {\lbl 36.51};
\fill[black] (1547pt,-620pt) rectangle (1585pt,-636pt);
\node[anchor=west, text=white, inner sep=0pt] at (1549pt,-628pt) {\lbl 35.81};
\fill[tred] (1546pt,-719pt) rectangle (1588pt,-737pt);
\node[anchor=west, text=white, inner sep=0pt] at (1548pt,-728pt) {\lbl 15885};

% top right widgets
\fill[orangebox] (1438pt,0pt) rectangle (1506pt,-16pt);
\node[anchor=west, inner sep=0pt, text=blue!40!black] at (1440pt,-8pt) {\fontsize{11}{12}\selectfont F.US.CLEK16};
\fill[white] (1507pt,0pt) rectangle (1550pt,-16pt);
\node[anchor=west, inner sep=0pt] at (1512pt,-8pt) {\fontsize{11}{12}\selectfont 35.81};
\fill[white] (1551pt,0pt) rectangle (1588pt,-16pt);
\node[anchor=west, inner sep=0pt] at (1556pt,-8pt) {\fontsize{11}{12}\selectfont 504.};
\fill[btn] (1438pt,-17pt) rectangle (1506pt,-33pt);
\draw[black!60] (1439pt,-18pt) rectangle (1452pt,-32pt);
\fill[black] (1443pt,-25pt) -- (1448pt,-21pt) -- (1448pt,-29pt) -- cycle;
\fill[white] (1454pt,-18pt) rectangle (1468pt,-32pt);
\draw[black!60] (1454pt,-18pt) rectangle (1468pt,-32pt);

% 4 L box
\fill[green!80!black] (1560pt,-913pt) rectangle (1586pt,-929pt);
\node[inner sep=0pt] at (1573pt,-921pt) {\lbl 4 L};

% scrollbar
\fill[scroll] (0pt,-931pt) rectangle (1588pt,-946pt);
\draw[black!50] (0pt,-931pt) -- (1588pt,-931pt);
\fill[btn] (3pt,-932pt) rectangle (18pt,-945pt);
\draw[black!60] (3pt,-932pt) rectangle (18pt,-945pt);
\fill[black] (8pt,-938.5pt) -- (12pt,-935pt) -- (12pt,-942pt) -- cycle;
\fill[btn] (1544pt,-932pt) rectangle (1567pt,-945pt);
\draw[black!60] (1544pt,-932pt) rectangle (1567pt,-945pt);
\fill[btn] (1568pt,-932pt) rectangle (1586pt,-945pt);
\draw[black!60] (1568pt,-932pt) rectangle (1586pt,-945pt);
\fill[black] (1580pt,-938.5pt) -- (1576pt,-935pt) -- (1576pt,-942pt) -- cycle;
\end{tikzpicture}
\end{document}
